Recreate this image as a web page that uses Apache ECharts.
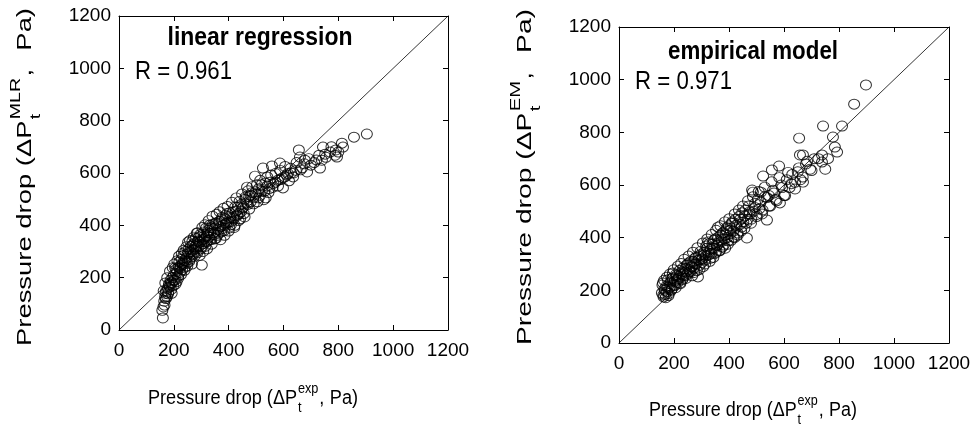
<!DOCTYPE html>
<html><head><meta charset="utf-8">
<script src="https://cdn.jsdelivr.net/npm/echarts@6/dist/echarts.min.js"></script>
<style>html,body{margin:0;padding:0;background:#fff}#c{width:974px;height:436px}</style>
</head><body><div id="c"></div>
<script>
// ---- data ----
const axisTicks = [0, 200, 400, 600, 800, 1000, 1200];
const identityLine = [0, 1200];
const mlrExp = [160,162,165,168,170,172,175,178,180,182,185,188,190,193,195,198,200,203,205,208,210,212,215,218,220,222,225,228,230,232,235,238,240,242,245,248,250,252,255,258,260,262,265,268,270,272,275,278,280,282,284,286,288,290,292,295,298,300,302,305,308,310,312,315,318,320,322,325,328,330,333,336,340,343,346,350,353,356,360,363,366,370,373,376,380,383,386,390,394,398,402,406,410,414,418,422,426,430,434,438,442,446,450,455,460,467,470,475,480,485,490,496,500,505,510,515,520,525,530,535,540,545,550,558,560,570,580,587,590,598,605,612,620,628,635,645,656,660,668,678,686,700,720,733,740,744,755,770,788,795,791,813,817,857,904,
  158,163,166,169,171,176,179,183,186,189,192,196,199,202,206,209,213,216,219,223,226,229,233,236,239,243,246,249,253,256,259,263,266,269,273,276,279,283,287,290,294,297,301,304,307,311,314,318,321,324,327,331,334,338,341,345,349,352,356,359,363,367,370,374,378,381,385,389,392,396,400,404,408,412,416,420,424,428,432,436,440,445,449,453,458,462,466,471,475,480,486,491,497,503,509,515,521,528,534,541,548,555,563,571,579,588,597,606,616,626,637,648,662,676,692,712,730,752,775,800];
const mlrPred = [46,88,110,126,140,150,128,160,145,175,165,190,155,180,200,170,210,190,237,215,185,225,205,240,260,220,245,270,230,255,285,265,240,300,275,255,290,336,310,270,300,320,280,340,305,290,330,310,350,325,370,295,340,320,355,335,310,360,248,345,330,375,350,320,390,360,340,380,355,400,370,345,390,405,365,390,350,410,385,370,415,395,375,430,400,380,425,405,445,410,390,430,415,450,425,400,455,440,470,445,425,480,465,445,500,546,480,510,490,525,505,588,520,490,540,515,555,619,530,505,550,525,565,627,545,565,550,638,575,543,585,592,570,600,585,610,688,661,620,649,604,630,650,619,649,699,660,680,668,661,688,714,699,737,749,
  75,150,95,180,120,200,138,170,225,182,140,238,190,252,175,232,265,198,282,236,212,292,250,305,228,262,318,244,296,262,342,298,252,325,355,282,318,300,372,340,285,365,318,392,300,358,402,336,310,372,418,345,392,328,435,372,348,408,442,362,398,452,345,422,388,465,362,438,410,472,378,448,402,488,430,392,470,505,438,418,492,452,520,470,432,508,485,532,462,515,548,482,528,555,505,572,530,498,562,585,540,592,560,598,572,610,582,625,598,618,600,640,612,635,655,640,668,672,700,680];
const emExp = [156,160,162,165,168,172,175,178,180,183,186,190,193,196,200,203,206,210,213,216,220,223,226,230,233,236,240,243,246,250,253,256,260,263,266,270,273,276,280,283,287,290,293,296,300,303,306,310,313,316,320,324,327,330,333,336,340,343,346,350,353,356,360,363,366,370,373,376,380,383,386,390,393,396,400,404,408,412,416,420,424,428,432,436,440,444,448,452,456,460,465,468,472,476,480,484,487,490,495,500,505,510,516,520,524,530,538,545,550,556,560,570,582,585,590,600,610,620,630,640,650,655,658,660,669,669,680,695,710,738,738,742,750,760,778,785,793,811,855,898,
  158,161,164,167,170,174,177,181,185,188,192,196,199,203,207,211,214,218,222,226,230,233,237,241,245,249,253,257,261,265,269,273,277,281,285,289,293,297,301,305,309,313,317,321,325,329,333,337,341,345,349,353,357,361,365,369,373,377,381,385,389,393,397,401,406,411,416,421,426,431,436,441,446,451,457,463,469,475,481,487,494,501,508,515,522,530,538,546,555,564,573,583,593,604,615,627,640,654,668,684,700,725];
const emPred = [190,228,175,205,185,215,195,240,180,210,225,200,245,266,220,235,210,255,230,245,275,225,260,240,285,255,270,245,295,265,280,305,270,290,255,310,285,300,325,275,251,315,295,335,305,320,290,345,315,330,360,384,335,310,355,340,375,325,360,395,345,370,440,380,350,410,385,365,420,395,360,430,400,375,445,415,390,460,425,400,470,440,410,480,450,425,495,460,435,505,399,470,520,490,455,581,573,500,530,480,545,510,573,490,634,555,467,560,520,657,580,545,672,532,600,560,620,590,640,610,650,778,714,620,714,611,680,660,700,714,687,824,660,700,782,744,725,824,907,980,
  220,182,238,200,172,250,212,188,262,232,205,248,278,218,260,240,292,252,228,302,270,246,318,282,258,300,330,272,310,288,345,268,322,300,362,330,280,348,318,380,335,300,368,395,342,378,322,412,360,390,340,428,372,402,352,445,392,418,372,460,410,438,388,472,428,455,402,490,448,418,505,470,440,520,482,455,540,498,470,555,515,488,575,535,505,592,552,520,612,570,540,628,590,560,648,605,585,665,630,690,655,700];

// ---- helpers ----
const FONT = "'Liberation Sans', Arial, sans-serif";
const cv = document.createElement('canvas').getContext('2d');
function tw(text, size, family, weight) { cv.font = (weight || 'normal') + ' ' + size + 'px ' + family; return cv.measureText(text).width; }
// axis title with stacked superscript / subscript, stretched to a target length
function stackedTitle(o) {
  const w1 = tw(o.main1, o.size, o.family);
  const ws = Math.max(tw(o.sup, o.small, o.family), tw(o.sub, o.small, o.family));
  const wc = tw(',', o.size, o.family);
  const w2 = tw(o.main2, o.size, o.family);
  const total = w1 + 1 + ws + 1 + wc + o.gap + w2;
  const x0 = -total / 2;
  const st = (text, size) => ({ text: text, fontSize: size, fontFamily: o.family, fill: '#000', align: 'left', verticalAlign: 'middle' });
  return {
    type: 'group', x: o.x, y: o.y, rotation: o.rotation || 0, scaleX: o.length / total, scaleY: 1,
    children: [
      { type: 'text', x: x0, y: 0, style: st(o.main1, o.size) },
      { type: 'text', x: x0 + w1 + 1, y: -o.size * 0.45, style: st(o.sup, o.small) },
      { type: 'text', x: x0 + w1 + 1, y: o.size * 0.5, style: st(o.sub, o.small) },
      { type: 'text', x: x0 + w1 + ws + 2, y: 0, style: st(',', o.size) },
      { type: 'text', x: x0 + w1 + ws + 2 + wc + o.gap, y: 0, style: st(o.main2, o.size) }
    ]
  };
}
function label(text, size, weight, x, y, width, align) {
  const w = tw(text, size, FONT, weight);
  const s = width / w;
  return { type: 'text', x: align === 'center' ? x - width / 2 : x, y: y, scaleX: s,
    style: { text: text, fontSize: size, fontWeight: weight, fontFamily: FONT, fill: '#000', align: 'left', verticalAlign: 'middle' } };
}
const pairs = (xs, ys) => xs.map((v, i) => [v, ys[i]]);
const diag = identityLine.map(v => [v, v]);

function baseAxis(g, pos, showLabel, margin) {
  return { gridIndex: g, type: 'value', min: axisTicks[0], max: axisTicks[axisTicks.length - 1], interval: axisTicks[1] - axisTicks[0], position: pos,
    axisLine: { show: true, onZero: false, lineStyle: { color: '#000', width: 1 } },
    axisTick: { show: true, inside: true, length: 5, lineStyle: { color: '#000' } },
    axisLabel: { show: showLabel, color: '#000', fontSize: 19, fontFamily: FONT, margin: margin, formatter: v => String(v) },
    splitLine: { show: false } };
}
const scatterStyle = { color: 'rgba(0,0,0,0)', borderColor: '#000', borderWidth: 1 };

const chart = echarts.init(document.getElementById('c'), null, { renderer: 'canvas' });
chart.setOption({
  animation: false,
  backgroundColor: '#fff',
  grid: [
    { left: 119, top: 16, width: 329, height: 314 },
    { left: 619, top: 27, width: 330, height: 316 }
  ],
  xAxis: [baseAxis(0, 'bottom', true, 11), baseAxis(0, 'top', false, 8), baseAxis(1, 'bottom', true, 11), baseAxis(1, 'top', false, 8)],
  yAxis: [baseAxis(0, 'left', true, 8), baseAxis(0, 'right', false, 8), baseAxis(1, 'left', true, 8), baseAxis(1, 'right', false, 8)],
  series: [
    { type: 'line', xAxisIndex: 0, yAxisIndex: 0, data: diag, symbol: 'none', lineStyle: { color: '#000', width: 0.8 }, z: 1 },
    { type: 'scatter', name: 'linear regression', xAxisIndex: 0, yAxisIndex: 0, data: pairs(mlrExp, mlrPred), symbol: 'circle', symbolSize: [11, 10], itemStyle: scatterStyle, z: 2 },
    { type: 'line', xAxisIndex: 2, yAxisIndex: 2, data: diag, symbol: 'none', lineStyle: { color: '#000', width: 0.8 }, z: 1 },
    { type: 'scatter', name: 'empirical model', xAxisIndex: 2, yAxisIndex: 2, data: pairs(emExp, emPred), symbol: 'circle', symbolSize: [11, 10], itemStyle: scatterStyle, z: 2 }
  ],
  graphic: [
    label('linear regression', 26, 'bold', 260, 38, 185, 'center'),
    label('R = 0.961', 26, 'normal', 135, 72, 97, 'left'),
    label('empirical model', 26, 'bold', 753, 52, 170, 'center'),
    label('R = 0.971', 26, 'normal', 635, 82, 97, 'left'),
    stackedTitle({ main1: 'Pressure drop (ΔP', sup: 'MLR', sub: 't', main2: 'Pa)', gap: 14, size: 21, small: 15, family: FONT, x: 25, y: 177, length: 338, rotation: Math.PI / 2 }),
    stackedTitle({ main1: 'Pressure drop (ΔP', sup: 'EM', sub: 't', main2: 'Pa)', gap: 14, size: 21, small: 15, family: FONT, x: 525, y: 177, length: 336, rotation: Math.PI / 2 }),
    stackedTitle({ main1: 'Pressure drop (ΔP', sup: 'exp', sub: 't', main2: 'Pa)', gap: 6, size: 20, small: 14, family: FONT, x: 253, y: 398, length: 210 }),
    stackedTitle({ main1: 'Pressure drop (ΔP', sup: 'exp', sub: 't', main2: 'Pa)', gap: 6, size: 20, small: 14, family: FONT, x: 753, y: 410, length: 208 })
  ]
});
</script>
</body></html>
